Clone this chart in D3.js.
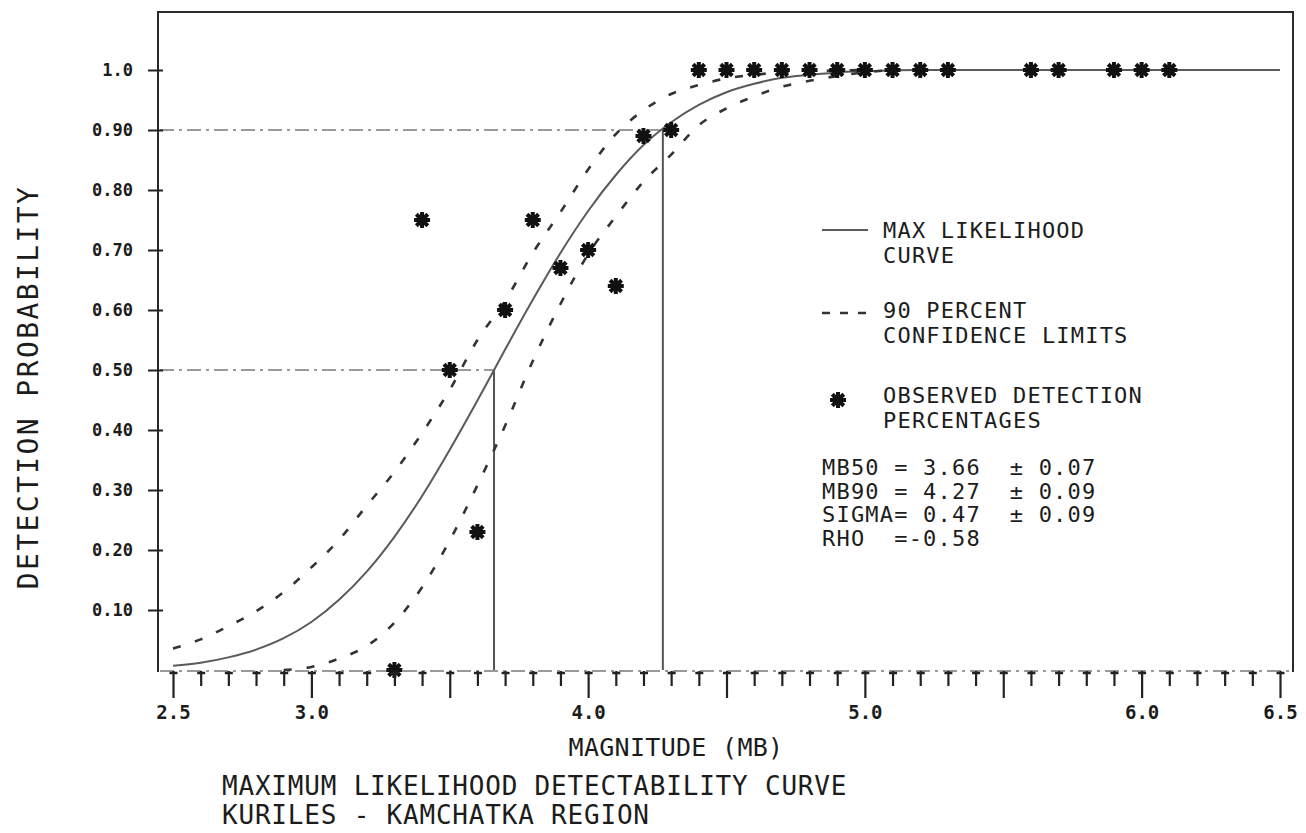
<!DOCTYPE html>
<html>
<head>
<meta charset="utf-8">
<script src="https://cdn.jsdelivr.net/npm/d3@7"></script>
<style>
  body { margin: 0; background: #fff; }
  svg text { font-family: "DejaVu Sans Mono", monospace; fill: #1c1c1c; }
</style>
</head>
<body>
<div id="chart"></div>
<script>

// max likelihood curve
var mlMag  = [2.5, 2.6, 2.7, 2.8, 2.9, 3.0, 3.1, 3.2, 3.3, 3.4, 3.5, 3.6, 3.7, 3.8, 3.9, 4.0, 4.1, 4.2, 4.3, 4.4, 4.5, 4.6, 4.7, 4.8, 4.9, 5.0, 5.2, 6.5];
var mlProb = [0.007, 0.012, 0.021, 0.034, 0.053, 0.080, 0.117, 0.164, 0.222, 0.290, 0.367, 0.449, 0.534, 0.617, 0.695, 0.765, 0.825, 0.875, 0.913, 0.942, 0.963, 0.977, 0.987, 0.992, 0.996, 0.998, 1.0, 1.0];

// 90 percent confidence limits
var upperMag  = [2.5, 2.6, 2.7, 2.8, 2.9, 3.0, 3.1, 3.2, 3.3, 3.4, 3.5, 3.6, 3.7, 3.8, 3.9, 4.0, 4.1, 4.2, 4.3, 4.4, 4.5, 4.6, 4.7, 4.8, 5.0];
var upperProb = [0.036, 0.051, 0.073, 0.098, 0.130, 0.171, 0.217, 0.274, 0.330, 0.395, 0.467, 0.550, 0.615, 0.695, 0.763, 0.834, 0.893, 0.933, 0.960, 0.975, 0.986, 0.992, 0.996, 0.998, 1.0];

var lowerMag  = [2.9, 3.0, 3.1, 3.2, 3.3, 3.4, 3.5, 3.6, 3.7, 3.8, 3.9, 4.0, 4.1, 4.2, 4.3, 4.4, 4.5, 4.6, 4.7, 4.8, 4.9, 5.0, 5.1];
var lowerProb = [0.0, 0.005, 0.019, 0.040, 0.079, 0.138, 0.216, 0.308, 0.407, 0.515, 0.610, 0.693, 0.756, 0.814, 0.859, 0.908, 0.936, 0.956, 0.972, 0.982, 0.990, 0.996, 1.0];

// observed detection percentages
var obsMag  = [3.3, 3.4, 3.5, 3.6, 3.7, 3.8, 3.9, 4.0, 4.1, 4.2, 4.3, 4.4, 4.5, 4.6, 4.7, 4.8, 4.9, 5.0, 5.1, 5.2, 5.3, 5.6, 5.7, 5.9, 6.0, 6.1];
var obsProb = [0.0, 0.75, 0.50, 0.23, 0.60, 0.75, 0.67, 0.70, 0.64, 0.89, 0.90, 1.0, 1.0, 1.0, 1.0, 1.0, 1.0, 1.0, 1.0, 1.0, 1.0, 1.0, 1.0, 1.0, 1.0, 1.0];

var mb50 = 3.66, mb90 = 4.27;

var xMajorTicks  = [2.5, 3.0, 3.5, 4.0, 4.5, 5.0, 5.5, 6.0, 6.5];
var xTickLabels  = ["2.5", "3.0", "", "4.0", "", "5.0", "", "6.0", "6.5"];
var yTicks       = [0.1, 0.2, 0.3, 0.4, 0.5, 0.6, 0.7, 0.8, 0.9, 1.0];
var yTickLabels  = ["0.10", "0.20", "0.30", "0.40", "0.50", "0.60", "0.70", "0.80", "0.90", "1.0"];

var legendLines = [["MAX LIKELIHOOD", "CURVE"], ["90 PERCENT", "CONFIDENCE LIMITS"], ["OBSERVED DETECTION", "PERCENTAGES"]];
var statLines = ["MB50 = 3.66  \u00b1 0.07", "MB90 = 4.27  \u00b1 0.09", "SIGMA= 0.47  \u00b1 0.09", "RHO  =-0.58"];

var width = 1306, height = 833;
var frame = {left: 158, right: 1293, top: 12, bottom: 671};

var svg = d3.select("#chart").append("svg")
  .attr("width", width)
  .attr("height", height);

var x = d3.scaleLinear().domain([2.5, 6.5]).range([173, 1280]);
var y = d3.scaleLinear().domain([0, 1]).range([670, 70]);

var zip = function(a, b) { return a.map(function(d, i) { return {m: d, p: b[i]}; }); };

var line = d3.line()
  .x(function(d) { return x(d.m); })
  .y(function(d) { return y(d.p); })
  .curve(d3.curveMonotoneX);

// x axis base line (dash-dot, faint like the plotter output)
svg.append("line")
  .attr("x1", frame.left + 2).attr("x2", frame.right)
  .attr("y1", frame.bottom).attr("y2", frame.bottom)
  .attr("stroke", "#9a9a9a").attr("stroke-width", 2)
  .attr("stroke-dasharray", "14,5,3,5");

// frame: left, top, right
svg.append("path")
  .attr("d", `M${frame.left},${frame.bottom + 1}V${frame.top}H${frame.right}V${frame.bottom + 1}`)
  .attr("fill", "none")
  .attr("stroke", "#2a2a2a")
  .attr("stroke-width", 2);

// reference lines at MB50 and MB90
var refs = [{m: mb50, p: 0.5}, {m: mb90, p: 0.9}];
svg.selectAll(".ref-h").data(refs).enter().append("line")
  .attr("class", "ref-h")
  .attr("x1", frame.left + 2).attr("x2", d => x(d.m))
  .attr("y1", d => y(d.p)).attr("y2", d => y(d.p))
  .attr("stroke", "#9a9a9a").attr("stroke-width", 2)
  .attr("stroke-dasharray", "14,5,3,5");
svg.selectAll(".ref-v").data(refs).enter().append("line")
  .attr("class", "ref-v")
  .attr("x1", d => x(d.m)).attr("x2", d => x(d.m))
  .attr("y1", d => y(d.p)).attr("y2", y(0))
  .attr("stroke", "#555").attr("stroke-width", 2);

// curves
svg.append("path")
  .attr("d", line(zip(mlMag, mlProb)))
  .attr("fill", "none").attr("stroke", "#5a5a5a").attr("stroke-width", 2);

[zip(upperMag, upperProb), zip(lowerMag, lowerProb)].forEach(function(c) {
  svg.append("path")
    .attr("d", line(c))
    .attr("fill", "none").attr("stroke", "#333").attr("stroke-width", 2.6)
    .attr("stroke-dasharray", "8,15");
});

// star marker
var starType = {
  draw: function(ctx, size) {
    var r = Math.sqrt(size) / 2, d = r * 0.72;
    ctx.moveTo(-r, 0); ctx.lineTo(r, 0);
    ctx.moveTo(0, -r); ctx.lineTo(0, r);
    ctx.moveTo(-d, -d); ctx.lineTo(d, d);
    ctx.moveTo(-d, d); ctx.lineTo(d, -d);
  }
};
var star = d3.symbol().type(starType).size(256);

svg.selectAll(".obs").data(zip(obsMag, obsProb)).enter().append("path")
  .attr("class", "obs")
  .attr("transform", d => `translate(${x(d.m)},${y(d.p)})`)
  .attr("d", star)
  .attr("stroke", "#111").attr("stroke-width", 4).attr("fill", "none");

// y axis
var yAxis = d3.axisLeft(y)
  .tickValues(yTicks)
  .tickFormat(function(d, i) { return yTickLabels[i]; })
  .tickSize(10)
  .tickPadding(15);

var yG = svg.append("g")
  .attr("transform", `translate(${frame.left},0)`)
  .call(yAxis);
yG.select(".domain").remove();
yG.selectAll(".tick line").attr("x1", 5).attr("stroke", "#222").attr("stroke-width", 2);
yG.selectAll(".tick text")
  .attr("font-family", "DejaVu Sans Mono")
  .attr("font-size", 17).attr("font-weight", "bold")
  .attr("fill", "#1c1c1c");

// x axis, majors and minors
var xMinorTicks = d3.range(25, 66).map(d => d / 10).filter(d => xMajorTicks.indexOf(d) < 0);

var xAxisMajor = d3.axisBottom(x)
  .tickValues(xMajorTicks)
  .tickFormat(function(d, i) { return xTickLabels[i]; })
  .tickSize(27)
  .tickPadding(8);
var xAxisMinor = d3.axisBottom(x)
  .tickValues(xMinorTicks)
  .tickFormat("")
  .tickSize(15);

var xG = svg.append("g").attr("transform", `translate(0,${frame.bottom})`).call(xAxisMajor);
var xG2 = svg.append("g").attr("transform", `translate(0,${frame.bottom})`).call(xAxisMinor);
[xG, xG2].forEach(function(g) {
  g.select(".domain").remove();
  g.selectAll(".tick line").attr("stroke", "#222").attr("stroke-width", 2.2);
  g.selectAll(".tick").append("line")
    .attr("x1", -4).attr("x2", 4).attr("y1", 2).attr("y2", 2)
    .attr("stroke", "#222").attr("stroke-width", 2.5);
});
xG.selectAll(".tick text")
  .attr("font-family", "DejaVu Sans Mono")
  .attr("font-size", 19).attr("font-weight", "bold")
  .attr("fill", "#1c1c1c");

// axis titles
svg.append("text")
  .attr("transform", "translate(38,387) rotate(-90)")
  .attr("text-anchor", "middle")
  .attr("font-size", 28)
  .attr("letter-spacing", 2.4)
  .text("DETECTION PROBABILITY");

svg.append("text")
  .attr("x", 676).attr("y", 756)
  .attr("text-anchor", "middle")
  .attr("font-size", 25)
  .attr("letter-spacing", 0.3)
  .text("MAGNITUDE (MB)");

var caption = ["MAXIMUM LIKELIHOOD DETECTABILITY CURVE", "KURILES - KAMCHATKA REGION"];
svg.selectAll(".caption").data(caption).enter().append("text")
  .attr("class", "caption")
  .attr("x", 222).attr("y", (d, i) => 795 + i * 29)
  .attr("font-size", 26)
  .attr("letter-spacing", 0.8)
  .text(d => d);

// legend
var legX = 822, textX = 883;
var legRows = [238, 318, 403];

svg.append("line")
  .attr("x1", legX).attr("x2", legX + 46).attr("y1", 230).attr("y2", 230)
  .attr("stroke", "#5a5a5a").attr("stroke-width", 2);
svg.append("line")
  .attr("x1", legX).attr("x2", legX + 46).attr("y1", 313).attr("y2", 313)
  .attr("stroke", "#333").attr("stroke-width", 2.6).attr("stroke-dasharray", "8,10");
svg.append("path")
  .attr("transform", "translate(838,400)")
  .attr("d", star)
  .attr("stroke", "#111").attr("stroke-width", 4).attr("fill", "none");

legendLines.forEach(function(rows, k) {
  svg.selectAll(".leg" + k).data(rows).enter().append("text")
    .attr("x", textX).attr("y", (d, i) => legRows[k] + i * 25)
    .attr("font-size", 22)
    .attr("letter-spacing", 1.2)
    .text(d => d);
});

svg.selectAll(".stat").data(statLines).enter().append("text")
  .attr("class", "stat")
  .attr("x", legX).attr("y", (d, i) => 475 + i * 23.5)
  .attr("xml:space", "preserve")
  .style("white-space", "pre")
  .attr("font-size", 22)
  .attr("letter-spacing", 1.2)
  .text(d => d);

</script>
</body>
</html>
